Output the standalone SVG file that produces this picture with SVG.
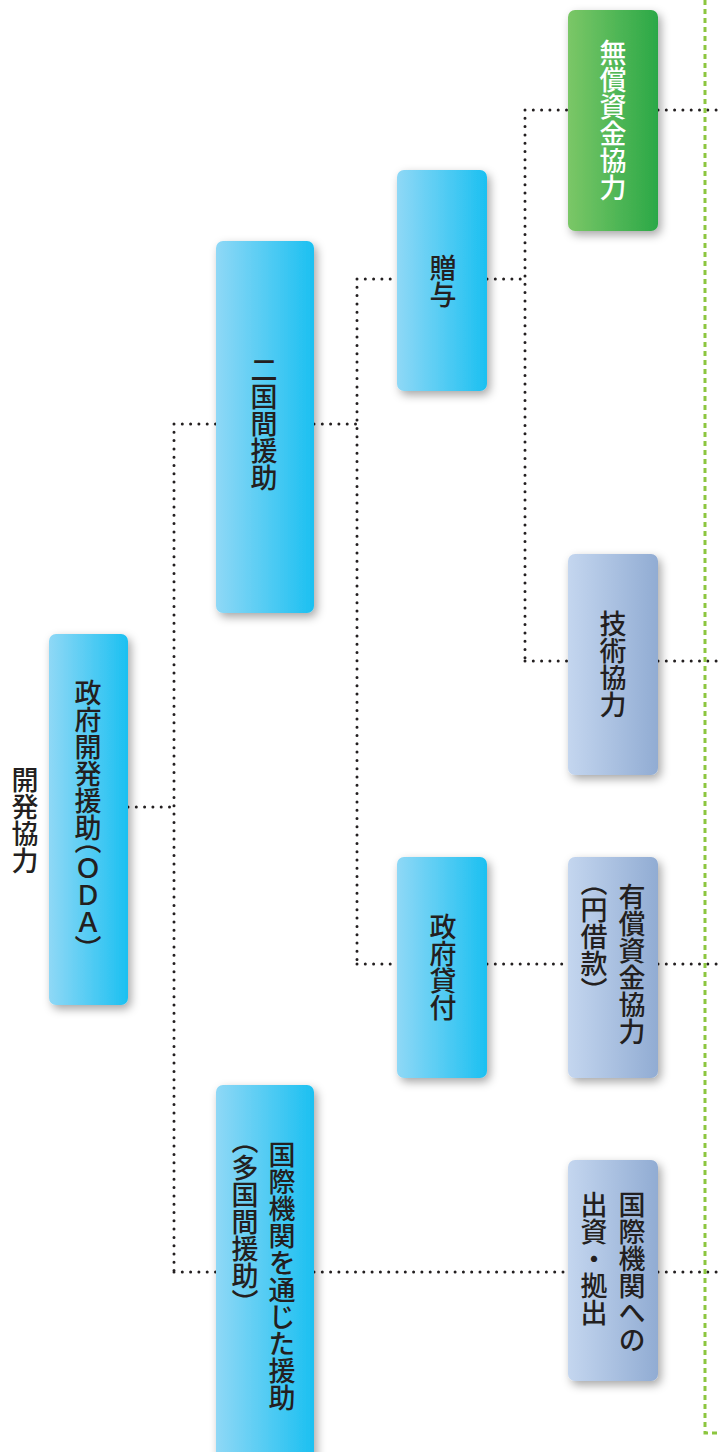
<svg xmlns="http://www.w3.org/2000/svg" width="720" height="1452" viewBox="0 0 720 1452">
<style>
text{font-family:"Noto Sans CJK JP","Noto Sans CJK SC",sans-serif;font-size:27px;fill:#231f20;writing-mode:vertical-rl;font-weight:500}
.w{fill:#ffffff}
.p{font-feature-settings:"vhal" 1}
.dot{fill:none;stroke:#231f20;stroke-width:3;stroke-linecap:round;stroke-dasharray:0 8.3}
.gd{fill:none;stroke:#8cc63f;stroke-width:3;stroke-dasharray:5 4}
</style>
<defs>
<linearGradient id="gBlue" x1="0" y1="0" x2="1" y2="0"><stop offset="0" stop-color="#8fd8f6"/><stop offset="1" stop-color="#1bc0f1"/></linearGradient>
<linearGradient id="gGray" x1="0" y1="0" x2="1" y2="0"><stop offset="0" stop-color="#c4d6ef"/><stop offset="1" stop-color="#91acd3"/></linearGradient>
<linearGradient id="gGreen" x1="0" y1="0" x2="1" y2="0"><stop offset="0" stop-color="#7bc767"/><stop offset="1" stop-color="#2ba847"/></linearGradient>
<filter id="sh" x="-30%" y="-10%" width="160%" height="125%"><feDropShadow dx="3" dy="4" stdDeviation="5" flood-color="#000" flood-opacity="0.35"/></filter>
</defs>
<rect width="720" height="1452" fill="#ffffff"/>
<g id="connectors">
<path class="dot" d="M128 807H174M174 424V1272M174 424H216M174 1272H216"/>
<path class="dot" d="M314 424H357M357 279V964M357 279H397M357 964H397"/>
<path class="dot" d="M487 279H525M525 110V661M525 110H568M525 661H568"/>
<path class="dot" d="M487 964H568M314 1272H568"/>
<path class="dot" d="M658 110H720M658 661H720M658 964H720M658 1272H720"/>
<path class="gd" d="M705 0V1433H720"/>
</g>
<g id="root"><text x="25" y="820" text-anchor="middle">開発協力</text></g>
<g id="oda"><rect x="49" y="634" width="79" height="371" rx="7" fill="url(#gBlue)" filter="url(#sh)"/><text class="p" x="88" y="814" text-anchor="middle">政府開発援助（ＯＤＡ）</text></g>
<g id="bilateral"><rect x="216" y="241" width="98" height="372" rx="7" fill="url(#gBlue)" filter="url(#sh)"/><text x="264" y="424" text-anchor="middle">二国間援助</text></g>
<g id="multilateral"><rect x="216" y="1085" width="98" height="400" rx="7" fill="url(#gBlue)" filter="url(#sh)"/><text x="282" y="1141">国際機関を通じた援助</text><text class="p" x="245" y="1141">（多国間援助）</text></g>
<g id="grant"><rect x="397" y="170" width="90" height="221" rx="7" fill="url(#gBlue)" filter="url(#sh)"/><text x="443" y="281" text-anchor="middle">贈与</text></g>
<g id="loan"><rect x="397" y="857" width="90" height="221" rx="7" fill="url(#gBlue)" filter="url(#sh)"/><text x="443" y="967" text-anchor="middle">政府貸付</text></g>
<g id="grantaid"><rect x="568" y="10" width="90" height="221" rx="7" fill="url(#gGreen)" filter="url(#sh)"/><text class="w" x="613" y="120" text-anchor="middle">無償資金協力</text></g>
<g id="tech"><rect x="568" y="554" width="90" height="221" rx="7" fill="url(#gGray)" filter="url(#sh)"/><text x="613" y="664" text-anchor="middle">技術協力</text></g>
<g id="yen"><rect x="568" y="857" width="90" height="221" rx="7" fill="url(#gGray)" filter="url(#sh)"/><text x="632" y="883">有償資金協力</text><text class="p" x="594" y="883">（円借款）</text></g>
<g id="intl"><rect x="568" y="1160" width="90" height="221" rx="7" fill="url(#gGray)" filter="url(#sh)"/><text x="632" y="1191">国際機関への</text><text x="594" y="1191">出資・拠出</text></g>
</svg>
